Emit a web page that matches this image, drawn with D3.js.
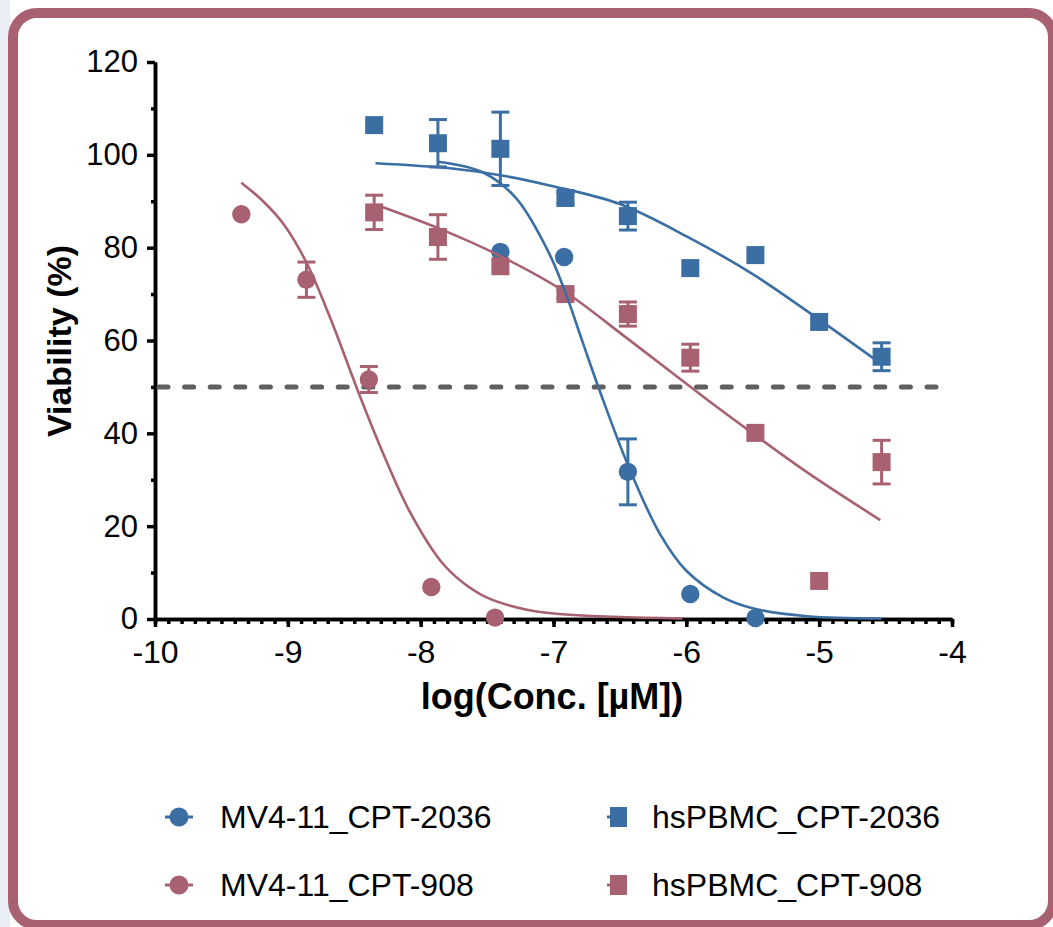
<!DOCTYPE html>
<html>
<head>
<meta charset="utf-8">
<script src="https://cdn.jsdelivr.net/npm/d3@7"></script>
<style>
  html, body { margin: 0; padding: 0; background: #fff; }
  svg { display: block; font-family: "Liberation Sans", Arial, sans-serif; }
</style>
</head>
<body>
<div id="chart"></div>
<script>
// --- data ---
const xTicks = [-10, -9, -8, -7, -6, -5, -4];
const yTicks = [0, 20, 40, 60, 80, 100, 120];

// MV4-11_CPT-2036 (blue circles)
const mv2036X = [-7.40, -6.92, -6.44, -5.97, -5.48];
const mv2036Y = [79.1, 78.0, 31.7, 5.4, 0.2];
const mv2036Err = [0, 0, 7.1, 0, 0];

// MV4-11_CPT-908 (pink circles)
const mv908X = [-9.35, -8.86, -8.39, -7.92, -7.44];
const mv908Y = [87.2, 73.1, 51.6, 6.9, 0.3];
const mv908Err = [0, 3.8, 2.8, 0, 0];

// hsPBMC (squares)
const pbX = [-8.35, -7.87, -7.40, -6.91, -6.44, -5.97, -5.48, -5.00, -4.53];
const pb2036Y = [106.4, 102.5, 101.3, 90.7, 86.8, 75.6, 78.4, 64.0, 56.5];
const pb2036Err = [0, 5.1, 7.9, 1.2, 3.0, 0, 0, 0, 3.0];
const pb908Y = [87.6, 82.3, 76.0, 70.0, 65.7, 56.3, 40.1, 8.2, 33.8];
const pb908Err = [3.7, 4.8, 0, 0.8, 2.6, 2.9, 0, 0, 4.7];

// fitted curves, points
const fitMv2036 = [[-7.87, 98.5], [-7.53, 96.2], [-7.28, 90.6], [-7.03, 78.6], [-6.90, 69.5], [-6.78, 59.6],
  [-6.65, 49.0], [-6.44, 33.2], [-6.20, 18.4], [-6.00, 10.4], [-5.72, 4.6], [-5.50, 2.3], [-5.09, 0.6], [-4.53, 0.1]];
const fitMv908 = [[-9.35, 94.0], [-9.19, 90.1], [-9.03, 85.0], [-8.86, 76.8], [-8.68, 64.8], [-8.53, 53.5],
  [-8.46, 48.2], [-8.28, 35.5], [-8.08, 23.0], [-7.85, 12.5], [-7.68, 7.8], [-7.50, 4.6], [-7.20, 2.0],
  [-6.88, 0.9], [-6.03, 0.1]];
const fitPb2036 = [[-8.34, 98.2], [-7.78, 97.1], [-7.40, 95.6], [-7.03, 93.4], [-6.50, 89.4], [-5.97, 82.0],
  [-5.50, 74.3], [-5.04, 65.3], [-4.54, 55.1]];
const fitPb908 = [[-8.33, 89.2], [-7.85, 84.0], [-7.40, 78.2], [-6.91, 70.4], [-6.47, 61.0], [-6.10, 52.9],
  [-5.85, 47.4], [-5.50, 40.0], [-5.09, 31.6], [-4.54, 21.3]];

const legendLabels = ["MV4-11_CPT-2036", "MV4-11_CPT-908", "hsPBMC_CPT-2036", "hsPBMC_CPT-908"];

// --- styles ---
const BLUE = "#3b6fa3";
const PINK = "#a86170";
const width = 1053, height = 927;

const svg = d3.select("#chart").append("svg")
  .attr("width", width)
  .attr("height", height);

// background strip + frame
svg.append("rect").attr("x", 0).attr("y", 0).attr("width", 10).attr("height", height).attr("fill", "#e9eef5");
svg.append("rect")
  .attr("x", 13).attr("y", 13)
  .attr("width", 1040).attr("height", 912)
  .attr("rx", 24)
  .attr("fill", "#fff")
  .attr("stroke", PINK)
  .attr("stroke-width", 10);

const x = d3.scaleLinear().domain([-10, -4]).range([155, 952]);
const y = d3.scaleLinear().domain([0, 120]).range([619, 62]);

// --- axes ---
const axisStyle = g => {
  g.select(".domain").attr("stroke", "#000").attr("stroke-width", 3.5);
  g.selectAll(".tick line").attr("stroke", "#000").attr("stroke-width", 3.5);
  g.selectAll("text").attr("font-size", 32).attr("fill", "#000").attr("font-family", "Liberation Sans, Arial, sans-serif");
};

// minor ticks first
svg.append("g")
  .attr("transform", `translate(0,${y(0)})`)
  .call(d3.axisBottom(x).tickValues(d3.range(-100, -39).map(d => d / 10)).tickSize(5).tickSizeOuter(0).tickFormat(""))
  .call(axisStyle);
svg.append("g")
  .attr("transform", `translate(${x(-10)},0)`)
  .call(d3.axisLeft(y).tickValues(d3.range(10, 120, 20)).tickSize(4).tickSizeOuter(0).tickFormat(""))
  .call(axisStyle);

svg.append("g")
  .attr("transform", `translate(0,${y(0)})`)
  .call(d3.axisBottom(x).tickValues(xTicks).tickSize(8).tickPadding(13).tickSizeOuter(0).tickFormat(d3.format("d")))
  .call(axisStyle)
  .call(g => g.selectAll("text").text(d => String(d).replace("\u2212", "-")));

svg.append("g")
  .attr("transform", `translate(${x(-10)},0)`)
  .call(d3.axisLeft(y).tickValues(yTicks).tickSize(8).tickPadding(9).tickSizeOuter(0))
  .call(axisStyle)
  .call(g => g.selectAll("text").attr("font-size", 31));

// axis titles
svg.append("text")
  .attr("x", 552).attr("y", 709)
  .attr("text-anchor", "middle")
  .attr("font-size", 36).attr("font-weight", "bold")
  .text("log(Conc. [µM])");

svg.append("text")
  .attr("transform", "translate(71,341) rotate(-90)")
  .attr("text-anchor", "middle")
  .attr("font-size", 34).attr("font-weight", "bold")
  .text("Viability (%)");

// dashed 50% line
svg.append("line")
  .attr("x1", x(-10) + 4).attr("x2", x(-4))
  .attr("y1", y(50)).attr("y2", y(50))
  .attr("stroke", "#5f5f5f")
  .attr("stroke-width", 5)
  .attr("stroke-linecap", "round")
  .attr("stroke-dasharray", "9 16.6");

// --- markers ---
function zip(xs, ys, es) {
  return xs.map((d, i) => ({ x: d, y: ys[i], e: es[i] }));
}

function drawErrors(data, color) {
  const g = svg.append("g").attr("stroke", color).attr("stroke-width", 3);
  const withErr = data.filter(d => d.e > 0);
  g.selectAll(".v").data(withErr).join("line")
    .attr("x1", d => x(d.x)).attr("x2", d => x(d.x))
    .attr("y1", d => y(d.y + d.e)).attr("y2", d => y(d.y - d.e));
  g.selectAll(".top").data(withErr).join("line").attr("class", "top")
    .attr("x1", d => x(d.x) - 9).attr("x2", d => x(d.x) + 9)
    .attr("y1", d => y(d.y + d.e)).attr("y2", d => y(d.y + d.e));
  g.selectAll(".bot").data(withErr).join("line").attr("class", "bot")
    .attr("x1", d => x(d.x) - 9).attr("x2", d => x(d.x) + 9)
    .attr("y1", d => y(d.y - d.e)).attr("y2", d => y(d.y - d.e));
}

function drawCircles(data, color) {
  drawErrors(data, color);
  svg.append("g").selectAll("circle").data(data).join("circle")
    .attr("cx", d => x(d.x)).attr("cy", d => y(d.y))
    .attr("r", 9.2).attr("fill", color);
}

function drawSquares(data, color) {
  drawErrors(data, color);
  svg.append("g").selectAll("rect").data(data).join("rect")
    .attr("x", d => x(d.x) - 9).attr("y", d => y(d.y) - 9)
    .attr("width", 18).attr("height", 18).attr("fill", color);
}

drawCircles(zip(mv2036X, mv2036Y, mv2036Err), BLUE);
drawCircles(zip(mv908X, mv908Y, mv908Err), PINK);
drawSquares(zip(pbX, pb2036Y, pb2036Err), BLUE);
drawSquares(zip(pbX, pb908Y, pb908Err), PINK);

// --- fitted curves ---
const line = d3.line()
  .x(d => x(d[0])).y(d => y(d[1]))
  .curve(d3.curveCatmullRom.alpha(0.5));

[[fitMv908, PINK], [fitPb908, PINK], [fitMv2036, BLUE], [fitPb2036, BLUE]].forEach(([pts, color]) => {
  svg.append("path")
    .attr("d", line(pts))
    .attr("fill", "none")
    .attr("stroke", color)
    .attr("stroke-width", 2.6);
});

// --- legend ---
const legendItems = [
  { label: legendLabels[0], color: BLUE, shape: "circle", lx: 179, ly: 817 },
  { label: legendLabels[1], color: PINK, shape: "circle", lx: 179, ly: 885 },
  { label: legendLabels[2], color: BLUE, shape: "square", lx: 618, ly: 817 },
  { label: legendLabels[3], color: PINK, shape: "square", lx: 618, ly: 885 }
];

const legend = svg.append("g");
legendItems.forEach(it => {
  const g = legend.append("g");
  if (it.shape === "circle") {
    g.append("line")
      .attr("x1", it.lx - 14).attr("x2", it.lx + 14)
      .attr("y1", it.ly).attr("y2", it.ly)
      .attr("stroke", it.color).attr("stroke-width", 3);
    g.append("circle").attr("cx", it.lx).attr("cy", it.ly).attr("r", 9.5).attr("fill", it.color);
  } else {
    g.append("line")
      .attr("x1", it.lx - 11).attr("x2", it.lx)
      .attr("y1", it.ly).attr("y2", it.ly)
      .attr("stroke", it.color).attr("stroke-width", 3);
    g.append("rect").attr("x", it.lx - 8).attr("y", it.ly - 10)
      .attr("width", 17).attr("height", 20).attr("fill", it.color);
  }
  g.append("text")
    .attr("x", it.shape === "circle" ? 220 : 652)
    .attr("y", it.ly)
    .attr("dy", "0.35em")
    .attr("font-size", 32)
    .attr("fill", "#000")
    .text(it.label);
});
</script>
</body>
</html>
